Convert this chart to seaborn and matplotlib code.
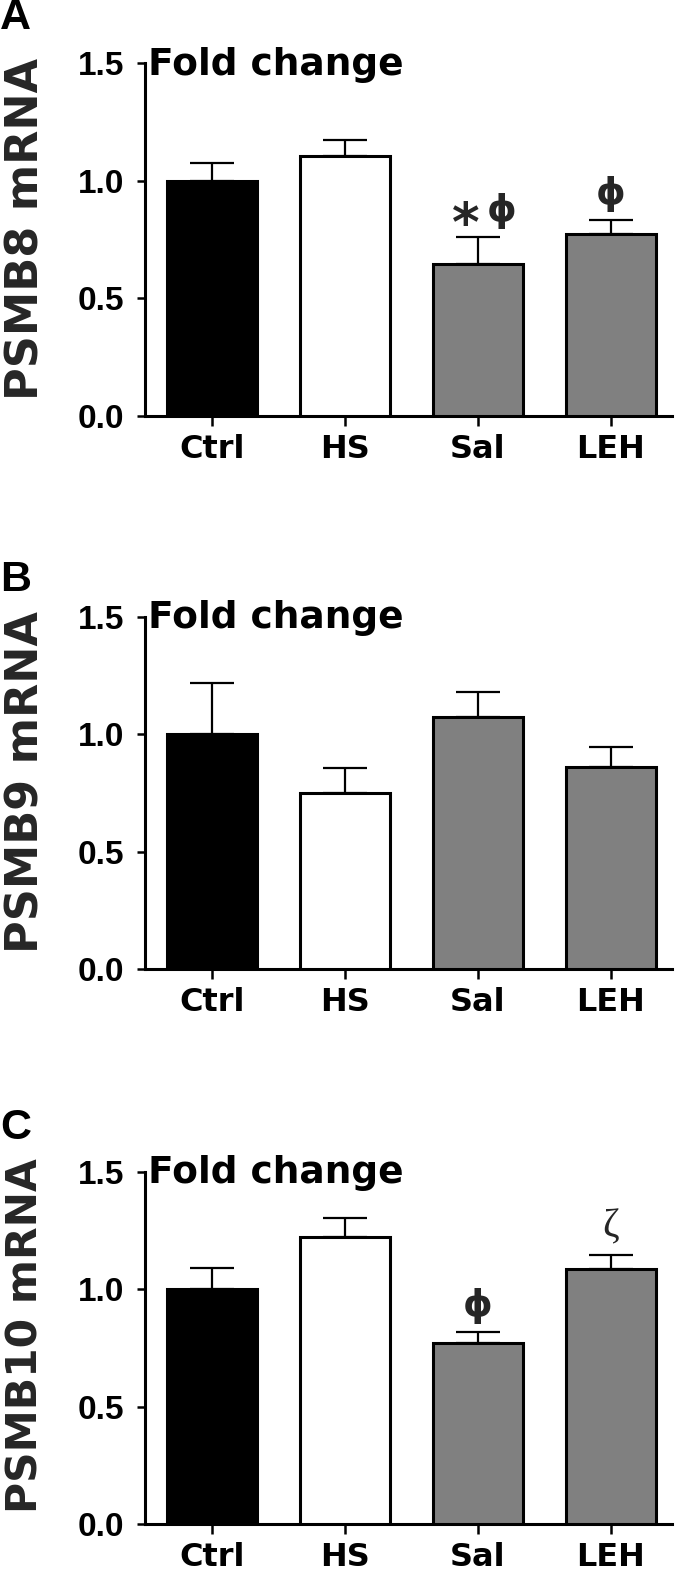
import matplotlib
matplotlib.use("Agg")
import matplotlib.pyplot as plt
import seaborn as sns
import pandas as pd

# ---- data ----
categories = ["Ctrl", "HS", "Sal", "LEH"]
bar_colors = ["#000000", "#ffffff", "#808080", "#808080"]

psmb8_mean = [1.00, 1.105, 0.648, 0.775]
psmb8_sem = [0.076, 0.069, 0.113, 0.057]

psmb9_mean = [1.00, 0.749, 1.075, 0.859]
psmb9_sem = [0.219, 0.106, 0.106, 0.087]

psmb10_mean = [1.00, 1.221, 0.771, 1.084]
psmb10_sem = [0.091, 0.083, 0.045, 0.062]

panel_letters = ["A", "B", "C"]
ylabels = ["PSMB8 mRNA", "PSMB9 mRNA", "PSMB10 mRNA"]
yticks = [0.0, 0.5, 1.0, 1.5]
ytick_labels = ["0.0", "0.5", "1.0", "1.5"]
inner_title = "Fold change"
# annotations: (panel index, category, text)
annotations = [
    (0, "Sal", "*"), (0, "Sal", "ɸ"), (0, "LEH", "ɸ"),
    (2, "Sal", "ɸ"), (2, "LEH", "ζ"),
]

sns.set_theme(style="ticks")
plt.rcParams['font.family'] = ['Liberation Sans', 'DejaVu Sans']

W, H = 680, 1574
fig = plt.figure(figsize=(W / 100, H / 100), dpi=100)

means = [psmb8_mean, psmb9_mean, psmb10_mean]
sems = [psmb8_sem, psmb9_sem, psmb10_sem]
zero_px = [416, 969.3, 1524.3]   # y pixel of 0.0
top_px = [63.3, 616.7, 1171.7]   # y pixel of 1.5
letter_top = [-2, 560, 1108]
ylabel_sizes = [32, 32, 30.5]
ylabel_y = [0.53, 0.53, 0.535]

ax_left = 145 / W
ax_width = (672 - 145) / W

for i in range(3):
    bottom = 1 - zero_px[i] / H
    height = (zero_px[i] - top_px[i]) / H
    ax = fig.add_axes([ax_left, bottom, ax_width, height])
    df = pd.DataFrame({"group": categories, "value": means[i], "sem": sems[i]})
    sns.barplot(data=df, x="group", y="value", hue="group", order=categories,
                hue_order=categories, palette=bar_colors, width=0.68,
                edgecolor="black", linewidth=2.2, errorbar=None, legend=False,
                ax=ax, zorder=3)
    xs = list(range(len(categories)))
    ax.errorbar(xs, df["value"], yerr=[[0] * len(xs), df["sem"]], fmt="none",
                ecolor="black", elinewidth=1.6, capsize=16, capthick=1.6, zorder=2)
    ax.set_ylim(0, 1.5)
    ax.set_xlim(-0.504, 3.46)
    ax.set_yticks(yticks)
    ax.set_yticklabels(ytick_labels)
    for s in ["top", "right"]:
        ax.spines[s].set_visible(False)
    for s in ["left", "bottom"]:
        ax.spines[s].set_linewidth(2.2)
        ax.spines[s].set_color("black")
    ax.tick_params(axis="y", length=6, width=1.8, pad=9, labelsize=24,
                   colors="black")
    ax.tick_params(axis="x", length=7, width=1.8, pad=6, labelsize=23,
                   colors="black")
    for lab in ax.get_yticklabels():
        lab.set_fontweight("bold")
    for lab in ax.get_xticklabels():
        lab.set_fontweight("bold")
        lab.set_family(["DejaVu Sans"])
    ax.set_xlabel("")
    ax.set_ylabel(ylabels[i], fontsize=ylabel_sizes[i], fontweight="bold",
                  family=["DejaVu Sans"], labelpad=0)
    ax.yaxis.label.set_verticalalignment("center")
    ax.yaxis.set_label_coords(-0.226, ylabel_y[i])
    ax.text(0.005, 1.45, inner_title, transform=ax.get_yaxis_transform(),
            ha="left", va="baseline", fontsize=27, fontweight="bold",
            family=["DejaVu Sans"], color="black")
    ax.set_facecolor("white")

    for (pi, cat, txt) in annotations:
        if pi != i:
            continue
        k = categories.index(cat)
        ytop = means[i][k] + sems[i][k]
        if txt == "*":
            ax.annotate(txt, xy=(k, ytop), xytext=(-9, 8), textcoords="offset points",
                        ha="center", va="center", fontsize=38, fontweight="bold",
                        family=["DejaVu Sans"])
        elif txt == "ɸ":
            dx = 17 if (i == 0 and cat == "Sal") else 0
            ax.annotate(txt, xy=(k, ytop), xytext=(dx, 6), textcoords="offset points",
                        ha="center", va="bottom", fontsize=27, fontweight="bold",
                        family=["DejaVu Sans"])
        else:
            ax.annotate(txt, xy=(k, ytop), xytext=(0, 7), textcoords="offset points",
                        ha="center", va="bottom", fontsize=29,
                        family=["Liberation Serif", "DejaVu Serif"])

    fig.text(0.0, 1 - letter_top[i] / H, panel_letters[i], ha="left", va="top",
             fontsize=31, fontweight="bold", color="black")

fig.savefig("out.png", dpi=100, facecolor="white")
